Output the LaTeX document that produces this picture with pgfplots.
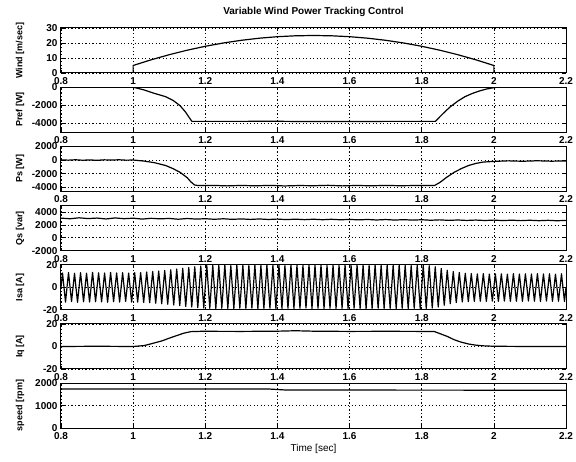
\documentclass[border=0pt]{standalone}
\usepackage{fontspec}
\setmainfont{Liberation Sans}
\usepackage{pgfplots}
\pgfplotsset{compat=1.18}

\pgfplotsset{
  panel/.style={
    width=505pt, height=45pt, scale only axis, anchor=south west,
    xmin=0.8, xmax=2.2,
    xtick={0.8,1,1.2,1.4,1.6,1.8,2,2.2},
    xticklabels={0.8,1,1.2,1.4,1.6,1.8,2,2.2},
    grid=major,
    major grid style={black, line width=0.6pt, dash pattern=on 1.4pt off 2.1pt},
    axis line style={black, line width=1pt},
    tick align=inside, major tick length=3pt,
    tick style={black, line width=0.6pt},
    ticklabel style={font=\fontsize{10}{10}\selectfont\bfseries},
    xticklabel style={yshift=-1pt},
    ylabel style={at={(axis description cs:-0.081,0.5)}, anchor=center,
      font=\fontsize{9}{9}\selectfont\bfseries},
    scaled y ticks=false,
    /pgf/number format/1000 sep={},
    /pgf/number format/assume math mode=true,
    cycle list={{black, solid, mark=none}},
    every axis plot post/.append style={black, line width=1.2pt, line join=round, mark=none},
  }
}

\begin{document}
\begin{tikzpicture}
\path[use as bounding box] (0,0) rectangle (576pt,462pt);

\node[font=\fontsize{10}{12}\selectfont\bfseries] at (313.5pt,450pt) {Variable Wind Power Tracking Control};

% wind speed
\begin{axis}[panel, at={(61pt,389pt)}, ymin=0, ymax=30, ytick={0,10,20,30},
  ylabel={Wind [m/sec]}]
\addplot coordinates {(0.8,0) (1.0,0) (1.0,5) (1.05,8.8) (1.1,12.2) (1.15,15.2) (1.2,17.8)
  (1.25,20) (1.3,21.8) (1.35,23.2) (1.4,24.2) (1.45,24.8) (1.5,25) (1.55,24.8) (1.6,24.2)
  (1.65,23.2) (1.7,21.8) (1.75,20) (1.8,17.8) (1.85,15.2) (1.9,12.2) (1.95,8.8) (2.0,5)
  (2.0,0) (2.2,0)};
\end{axis}

% reference power
\begin{axis}[panel, at={(61pt,329.8pt)}, ymin=-5000, ymax=0, ytick={-4000,-2000,0},
  ylabel={Pref [W]}]
\addplot coordinates {(0.8,0) (1.0,0) (1.03,-300) (1.06,-700) (1.09,-1050) (1.11,-1450)
  (1.13,-2050) (1.145,-2750) (1.155,-3350) (1.163,-3800) (1.25,-3800) (1.4,-3790)
  (1.5,-3820) (1.6,-3810) (1.7,-3800) (1.838,-3800) (1.85,-3300) (1.865,-2700)
  (1.88,-2150) (1.9,-1550) (1.92,-1050) (1.94,-700) (1.96,-420) (1.98,-200) (2.0,-50)
  (2.01,0) (2.2,0)};
\end{axis}

% stator active power
\begin{axis}[panel, at={(61pt,270.6pt)}, ymin=-4600, ymax=2000, ytick={-4000,-2000,0,2000},
  ylabel={Ps [W]}]
\addplot coordinates {(0.8,30) (0.82,-20) (0.84,40) (0.86,-30) (0.88,20) (0.9,-40)
  (0.92,30) (0.94,-10) (0.96,40) (0.98,-20) (1.0,0) (1.03,-150) (1.06,-400) (1.09,-800)
  (1.11,-1250) (1.13,-1800) (1.15,-2600) (1.16,-3200) (1.17,-3650) (1.18,-3750)
  (1.22,-3720) (1.26,-3790) (1.3,-3730) (1.34,-3780) (1.38,-3720) (1.42,-3800)
  (1.46,-3740) (1.5,-3770) (1.54,-3710) (1.58,-3790) (1.62,-3730) (1.66,-3780)
  (1.7,-3720) (1.74,-3770) (1.78,-3740) (1.835,-3750) (1.85,-3300) (1.87,-2500)
  (1.89,-1800) (1.91,-1250) (1.93,-800) (1.95,-500) (1.97,-300) (2.0,-200)
  (2.04,-120) (2.08,-180) (2.12,-110) (2.16,-170) (2.2,-130)};
\end{axis}

% stator reactive power
\begin{axis}[panel, at={(61pt,211.4pt)}, ymin=-2000, ymax=5000, ytick={-2000,0,2000,4000},
  ylabel={Qs [var]}]
\addplot coordinates {(0.8,3050) (0.825,2950) (0.85,3100) (0.875,2980) (0.9,3060)
  (0.925,2920) (0.95,3080) (0.975,2960) (1.0,3040) (1.025,2900) (1.05,3020) (1.075,2940)
  (1.1,3000) (1.125,2880) (1.15,2990) (1.175,2900) (1.2,2960) (1.225,2870) (1.25,2950)
  (1.275,2860) (1.3,2930) (1.325,2850) (1.35,2920) (1.375,2840) (1.4,2900) (1.425,2820)
  (1.45,2890) (1.475,2810) (1.5,2880) (1.525,2800) (1.55,2870) (1.575,2790) (1.6,2850)
  (1.625,2780) (1.65,2840) (1.675,2760) (1.7,2830) (1.725,2750) (1.75,2810) (1.775,2740)
  (1.8,2800) (1.825,2720) (1.85,2780) (1.875,2700) (1.9,2760) (1.925,2690) (1.95,2750)
  (1.975,2680) (2.0,2740) (2.025,2670) (2.05,2730) (2.075,2660) (2.1,2720) (2.125,2650)
  (2.15,2710) (2.175,2640) (2.2,2700)};
\end{axis}

% stator current, phase a
\begin{axis}[panel, at={(61pt,152.2pt)}, ymin=-20, ymax=20, ytick={-20,0,20},
  ylabel={Isa [A]}]
\addplot table {
x y
0.8 0
0.8042 12.8
0.8125 -13.2
0.8208 13.1
0.8292 -12.7
0.8375 12.5
0.8458 -13.4
0.8542 13.0
0.8625 -12.9
0.8708 12.6
0.8792 -13.1
0.8875 13.3
0.8958 -12.8
0.9042 12.9
0.9125 -13.0
0.9208 12.7
0.9292 -13.3
0.9375 13.2
0.9458 -12.8
0.9542 12.8
0.9625 -13.1
0.9708 13.0
0.9792 -12.6
0.9875 12.7
0.9958 -13.2
1.0042 13.0
1.0125 -13.2
1.0208 13.1
1.0292 -13.5
1.0375 13.6
1.0458 -13.7
1.0542 14.0
1.0625 -14.2
1.0708 14.5
1.0792 -14.6
1.0875 15.0
1.0958 -15.1
1.1042 15.6
1.1125 -15.8
1.1208 16.2
1.1292 -16.3
1.1375 16.9
1.1458 -17.0
1.1542 17.6
1.1625 -17.6
1.1708 18.3
1.1792 -18.1
1.1875 18.9
1.1958 -18.5
1.2042 19.4
1.2125 -18.7
1.2208 19.6
1.2292 -18.9
1.2375 19.5
1.2458 -18.6
1.2542 19.8
1.2625 -18.8
1.2708 19.3
1.2792 -18.9
1.2875 19.7
1.2958 -18.6
1.3042 19.5
1.3125 -18.8
1.3208 19.2
1.3292 -18.5
1.3375 19.6
1.3458 -18.9
1.3542 19.4
1.3625 -18.7
1.3708 19.8
1.3792 -18.6
1.3875 19.5
1.3958 -18.9
1.4042 19.6
1.4125 -18.8
1.4208 19.3
1.4292 -18.6
1.4375 19.7
1.4458 -18.9
1.4542 19.5
1.4625 -18.7
1.4708 19.4
1.4792 -18.5
1.4875 19.8
1.4958 -18.8
1.5042 19.5
1.5125 -18.7
1.5208 19.7
1.5292 -18.9
1.5375 19.3
1.5458 -18.6
1.5542 19.6
1.5625 -18.8
1.5708 19.4
1.5792 -18.7
1.5875 19.7
1.5958 -18.9
1.6042 19.4
1.6125 -18.6
1.6208 19.6
1.6292 -18.8
1.6375 19.5
1.6458 -18.9
1.6542 19.3
1.6625 -18.7
1.6708 19.7
1.6792 -18.6
1.6875 19.5
1.6958 -18.8
1.7042 19.6
1.7125 -18.7
1.7208 19.4
1.7292 -18.9
1.7375 19.7
1.7458 -18.6
1.7542 19.5
1.7625 -18.8
1.7708 19.3
1.7792 -18.7
1.7875 19.6
1.7958 -18.9
1.8042 19.5
1.8125 -18.8
1.8208 19.2
1.8292 -18.4
1.8375 18.3
1.8458 -17.5
1.8542 16.8
1.8625 -16.0
1.8708 15.2
1.8792 -14.6
1.8875 14.0
1.8958 -13.6
1.9042 13.2
1.9125 -13.0
1.9208 12.5
1.9292 -12.7
1.9375 12.2
1.9458 -12.5
1.9542 11.9
1.9625 -12.4
1.9708 12.1
1.9792 -12.6
1.9875 11.8
1.9958 -12.3
2.0042 11.9
2.0125 -12.5
2.0208 12.0
2.0292 -12.3
2.0375 11.7
2.0458 -12.6
2.0542 12.1
2.0625 -12.4
2.0708 11.8
2.0792 -12.5
2.0875 12.0
2.0958 -12.2
2.1042 11.8
2.1125 -12.4
2.1208 12.1
2.1292 -12.6
2.1375 11.9
2.1458 -12.3
2.1542 12.0
2.1625 -12.5
2.1708 11.7
2.1792 -12.4
2.1875 12.0
2.1958 -12.6
2.2 0
};
\end{axis}

% rotor q-axis current
\begin{axis}[panel, at={(61pt,93pt)}, ymin=-20, ymax=20, ytick={-20,0,20},
  ylabel={Iq [A]}]
\addplot coordinates {(0.8,0) (0.9,0.2) (1.0,0) (1.03,0.8) (1.05,2.4) (1.08,5)
  (1.1,7.4) (1.12,9.6) (1.14,11.8) (1.16,13.2) (1.19,13.5) (1.3,13.4) (1.4,13.6)
  (1.45,14) (1.5,13.6) (1.6,13.4) (1.7,13.5) (1.8,13.4) (1.835,13.3) (1.85,11.5)
  (1.872,8.8) (1.89,6) (1.91,3.8) (1.93,2.2) (1.95,1.2) (1.97,0.6) (2.0,0.2)
  (2.1,0) (2.2,0)};
\end{axis}

% generator speed
\begin{axis}[panel, at={(61pt,33.8pt)}, ymin=0, ymax=2000, ytick={0,1000,2000},
  ylabel={speed [rpm]}, xlabel={Time [sec]},
  xlabel style={font=\fontsize{10}{10}\selectfont, yshift=2pt}]
\addplot coordinates {(0.8,1740) (1.0,1745) (1.2,1740) (1.38,1738) (1.42,1700)
  (1.6,1695) (1.8,1692) (2.0,1690) (2.2,1690)};
\end{axis}
\end{tikzpicture}
\end{document}
